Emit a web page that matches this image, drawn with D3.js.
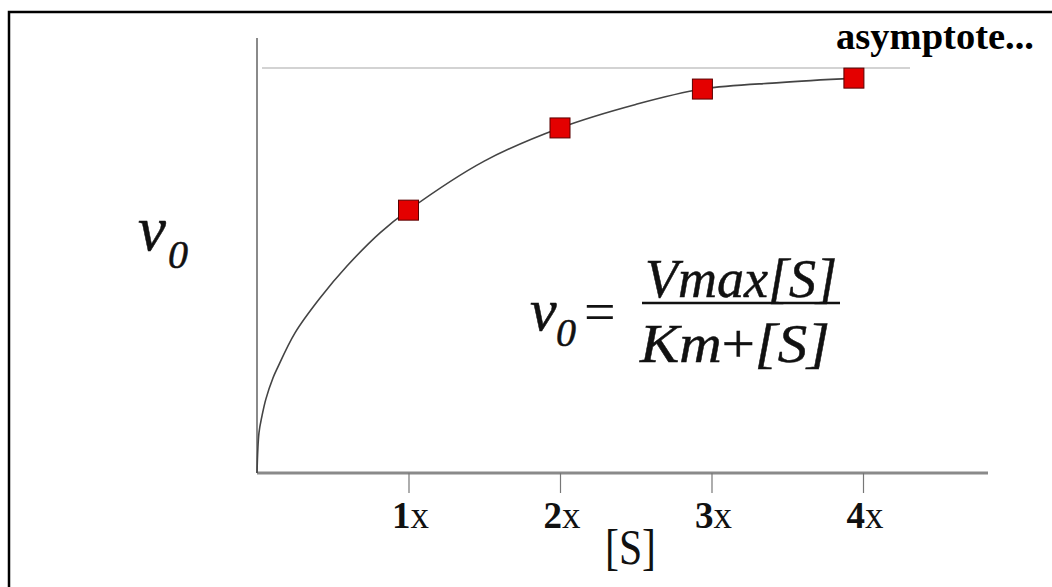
<!DOCTYPE html>
<html>
<head>
<meta charset="utf-8">
<script src="https://cdn.jsdelivr.net/npm/d3@7"></script>
<style>
  body { margin: 0; background: #fff; }
  text { font-family: "Liberation Serif", "Times New Roman", serif; }
  .eq { stroke: #111; stroke-width: 0.5; }
</style>
</head>
<body>
<div id="chart"></div>
<script>
// measured points (substrate conc. in multiples, initial velocity as fraction of Vmax)
var sVals = [1, 2, 2.94, 3.94];
var v0Vals = [0.649, 0.852, 0.948, 0.975];

// points
var curveS = [0, 0.013, 0.033, 0.059, 0.106, 0.132, 0.251, 0.416, 0.594, 0.812, 1, 1.5, 2, 2.5, 2.94, 3.45, 3.94];
var curveV = [0, 0.099, 0.141, 0.183, 0.235, 0.257, 0.346, 0.432, 0.511, 0.593, 0.649, 0.77, 0.852, 0.91, 0.948, 0.964, 0.975];

var tickVals = [1, 2, 3, 4];
var tickLabels = ["1", "2", "3", "4"];
var asymptote = 1;

var width = 1052, height = 587;

var svg = d3.select("#chart")
  .append("svg")
    .attr("width", width)
    .attr("height", height);

// frame (only top and left edges are visible)
svg.append("path")
  .attr("d", "M9,600 V12 H1060")
  .attr("fill", "none")
  .attr("stroke", "#000")
  .attr("stroke-width", 2.5);

var x = d3.scaleLinear()
  .domain([0, 1])
  .range([257, 408.5]);

var y = d3.scaleLinear()
  .domain([0, 1])
  .range([473, 68]);

// asymptote line
svg.append("line")
  .attr("x1", x(0) + 5).attr("x2", 910)
  .attr("y1", y(asymptote)).attr("y2", y(asymptote))
  .attr("stroke", "#c4c4c4")
  .attr("stroke-width", 1.5);

// Y axis
svg.append("line")
  .attr("x1", x(0)).attr("x2", x(0))
  .attr("y1", 38).attr("y2", y(0))
  .attr("stroke", "#8a8a8a")
  .attr("stroke-width", 2);

// X axis
var xAxis = svg.append("g")
  .attr("transform", "translate(0," + y(0) + ")")
  .call(d3.axisBottom(x).tickValues(tickVals).tickSize(20).tickFormat(""));
xAxis.select(".domain")
  .attr("d", "M" + x(0) + ",0H988")
  .attr("stroke", "#8a8a8a")
  .attr("stroke-width", 3);
xAxis.selectAll(".tick line")
  .attr("stroke", "#777")
  .attr("stroke-width", 1.2);

// tick labels: bold number + plain x
var tl = svg.append("g").selectAll("text")
  .data(tickVals)
  .enter().append("text")
    .attr("x", function(d) { return x(d) + 2; })
    .attr("y", 528)
    .attr("text-anchor", "middle")
    .attr("font-size", 37)
    .attr("fill", "#111");
tl.append("tspan")
  .attr("font-weight", "bold")
  .text(function(d, i) { return tickLabels[i]; });
tl.append("tspan")
  .text("x");

svg.append("text")
  .attr("x", 605).attr("y", 564)
  .attr("font-size", 50)
  .attr("fill", "#111")
  .attr("textLength", 51)
  .attr("lengthAdjust", "spacingAndGlyphs")
  .text("[S]");

// curve
var line = d3.line()
  .x(function(d) { return x(d[0]); })
  .y(function(d) { return y(d[1]); })
  .curve(d3.curveCatmullRom.alpha(0.5));

svg.append("path")
  .datum(d3.zip(curveS, curveV))
  .attr("d", line)
  .attr("fill", "none")
  .attr("stroke", "#444")
  .attr("stroke-width", 1.6);

// points
svg.append("g").selectAll("rect")
  .data(d3.zip(sVals, v0Vals))
  .enter().append("rect")
    .attr("x", function(d) { return x(d[0]) - 10; })
    .attr("y", function(d) { return y(d[1]) - 10; })
    .attr("width", 20)
    .attr("height", 20)
    .attr("fill", "#e40000")
    .attr("stroke", "#5a0000")
    .attr("stroke-width", 1);

// labels
svg.append("text")
  .attr("x", 836).attr("y", 49)
  .attr("font-size", 37)
  .attr("font-weight", "bold")
  .attr("textLength", 198)
  .attr("lengthAdjust", "spacingAndGlyphs")
  .text("asymptote...");

svg.append("text")
  .attr("class", "eq")
  .attr("x", 138).attr("y", 250)
  .attr("font-style", "italic")
  .attr("font-size", 63)
  .attr("fill", "#111")
  .text("v");
svg.append("text")
  .attr("class", "eq")
  .attr("x", 168).attr("y", 268)
  .attr("font-style", "italic")
  .attr("font-size", 40)
  .attr("fill", "#111")
  .text("0");

// equation
svg.append("text")
  .attr("class", "eq")
  .attr("x", 530).attr("y", 330)
  .attr("font-style", "italic")
  .attr("font-size", 60)
  .attr("fill", "#111")
  .text("v");
svg.append("text")
  .attr("class", "eq")
  .attr("x", 556).attr("y", 346)
  .attr("font-style", "italic")
  .attr("font-size", 40)
  .attr("fill", "#111")
  .text("0");
svg.append("text")
  .attr("x", 584).attr("y", 331)
  .attr("font-size", 56)
  .attr("fill", "#111")
  .text("=");

svg.append("text")
  .attr("class", "eq")
  .attr("x", 645).attr("y", 297)
  .attr("font-style", "italic")
  .attr("font-size", 54)
  .attr("fill", "#111")
  .attr("textLength", 192)
  .attr("lengthAdjust", "spacingAndGlyphs")
  .text("Vmax[S]");

svg.append("line")
  .attr("x1", 642).attr("x2", 840)
  .attr("y1", 303).attr("y2", 303)
  .attr("stroke", "#111")
  .attr("stroke-width", 2.5);

var den = svg.append("text")
  .attr("class", "eq")
  .attr("x", 640).attr("y", 362)
  .attr("font-size", 55)
  .attr("fill", "#111")
  .attr("textLength", 190)
  .attr("lengthAdjust", "spacingAndGlyphs");
den.append("tspan").attr("font-style", "italic").text("Km");
den.append("tspan").text("+");
den.append("tspan").attr("font-style", "italic").text("[S]");
</script>
</body>
</html>
